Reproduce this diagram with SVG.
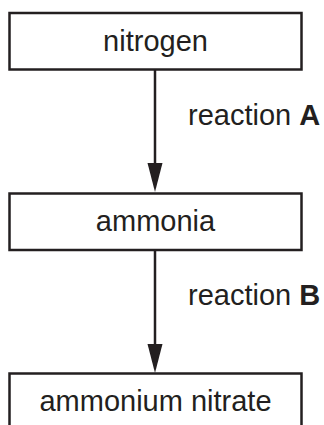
<svg xmlns="http://www.w3.org/2000/svg" width="324" height="425" viewBox="0 0 324 425">
<style>
.box{fill:#fff;stroke:#231f20;stroke-width:2.5}
.lbl{font-family:"Liberation Sans",Arial,sans-serif;font-size:29px;fill:#231f20;text-anchor:middle}
.rx{font-family:"Liberation Sans",Arial,sans-serif;font-size:29px;fill:#231f20}
.edge{stroke:#231f20;stroke-width:2.5;fill:none}
.head{fill:#231f20}
</style>
<rect width="324" height="425" fill="#fff"/>
<g id="connectors">
<line class="edge" x1="155" y1="70" x2="155" y2="170"/>
<polygon class="head" points="147.5,163 162.5,163 155,192"/>
<line class="edge" x1="155" y1="250" x2="155" y2="350"/>
<polygon class="head" points="147.5,344 162.5,344 155,373"/>
<text class="rx" x="188" y="125">reaction <tspan font-weight="bold">A</tspan></text>
<text class="rx" x="188" y="305">reaction <tspan font-weight="bold">B</tspan></text>
</g>
<g id="nitrogen">
<rect class="box" x="9.5" y="13" width="292" height="56.5"/>
<text class="lbl" x="155.5" y="50.5">nitrogen</text>
</g>
<g id="ammonia">
<rect class="box" x="9.5" y="193.5" width="292" height="56.5"/>
<text class="lbl" x="155.5" y="231">ammonia</text>
</g>
<g id="ammonium-nitrate">
<rect class="box" x="9.5" y="373.5" width="292" height="60"/>
<text class="lbl" x="155.5" y="410.5">ammonium nitrate</text>
</g>
</svg>
